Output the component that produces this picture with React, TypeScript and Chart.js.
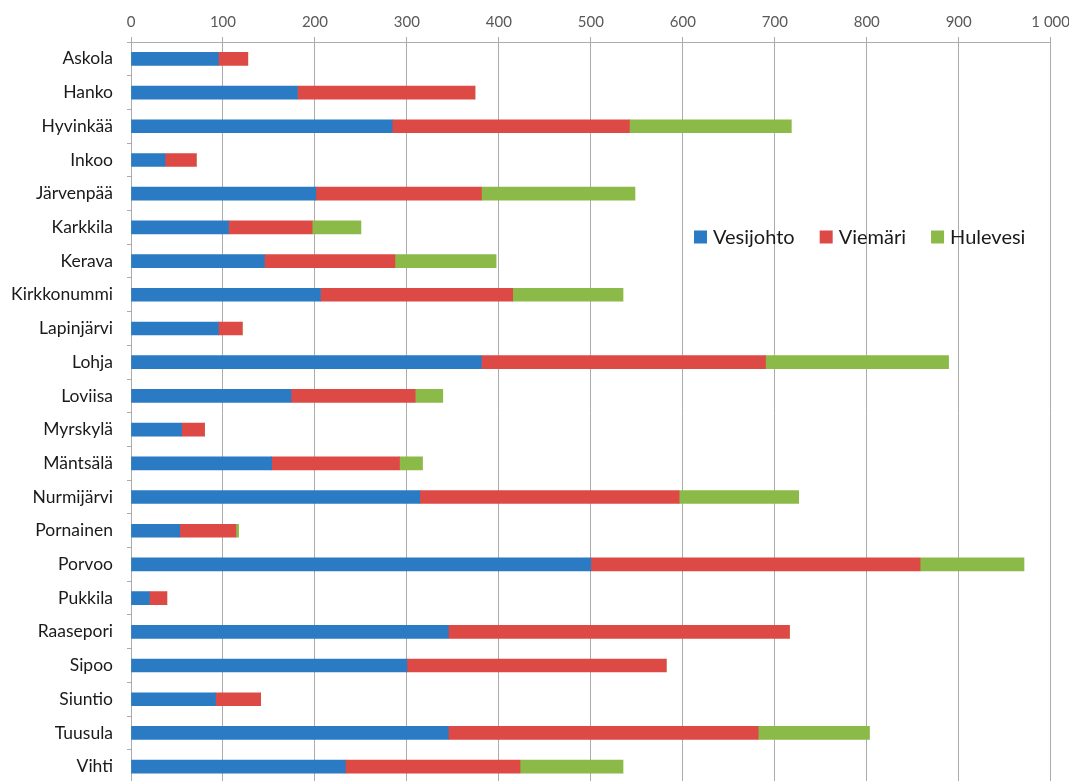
import React, { useEffect, useRef } from "react";
import { Chart, registerables } from "chart.js";

Chart.register(...registerables);

const categories = [
  "Askola", "Hanko", "Hyvinkää", "Inkoo", "Järvenpää", "Karkkila", "Kerava",
  "Kirkkonummi", "Lapinjärvi", "Lohja", "Loviisa", "Myrskylä", "Mäntsälä",
  "Nurmijärvi", "Pornainen", "Porvoo", "Pukkila", "Raasepori", "Sipoo",
  "Siuntio", "Tuusula", "Vihti",
];

const vesijohto = [95, 181, 284, 37, 201, 106, 145, 206, 95, 381, 174, 55, 153, 314, 53, 500, 20, 345, 300, 92, 345, 233];
const viemari = [32, 193, 258, 34, 180, 91, 142, 209, 26, 309, 135, 25, 139, 282, 61, 358, 19, 371, 282, 49, 337, 190];
const hulevesi = [0, 0, 176, 0, 167, 53, 110, 120, 0, 199, 30, 0, 25, 130, 3, 113, 0, 0, 0, 0, 121, 112];

const seriesLabels = ["Vesijohto", "Viemäri", "Hulevesi"];
const seriesColors = ["#2a7bc4", "#dd4a46", "#8cba48"];

const xTicks = [0, 100, 200, 300, 400, 500, 600, 700, 800, 900, 1000];

const FONT = 'Lato, "Open Sans", sans-serif';

const legendPlugin = {
  id: "insideLegend",
  afterDraw(chart: any) {
    const ctx = chart.ctx;
    ctx.save();
    ctx.font = `20px ${FONT}`;
    ctx.textBaseline = "middle";
    ctx.textAlign = "left";
    let x = 694;
    const y = 237;
    chart.data.datasets.forEach((ds: any) => {
      ctx.fillStyle = ds.backgroundColor;
      ctx.fillRect(x, y - 6.5, 13, 13);
      x += 19;
      ctx.fillStyle = "#1a1a1a";
      ctx.fillText(ds.label, x, y + 1);
      x += ctx.measureText(ds.label).width + 25;
    });
    ctx.restore();
  },
};

export default function App() {
  const ref = useRef<HTMLCanvasElement | null>(null);
  useEffect(() => {
    if (!ref.current) return;
    const data = [vesijohto, viemari, hulevesi];
    const chart = new Chart(ref.current, {
      type: "bar",
      data: {
        labels: categories,
        datasets: seriesLabels.map((label, i) => ({
          label,
          data: data[i],
          backgroundColor: seriesColors[i],
          borderWidth: 0,
          barThickness: 13,
        })),
      },
      options: {
        indexAxis: "y",
        responsive: false,
        animation: false,
        layout: { padding: { left: 0, right: 0, top: 0, bottom: 0 } },
        plugins: {
          legend: { display: false },
          tooltip: { enabled: false },
        },
        scales: {
          x: {
            position: "top",
            stacked: true,
            min: 0,
            max: 1000,
            afterBuildTicks: (s: any) => {
              s.ticks = xTicks.map((v) => ({ value: v }));
            },
            afterFit: (s: any) => {
              s.height = 42;
            },
            ticks: {
              color: "#595959",
              font: { family: FONT, size: 15 },
              padding: 6,
              maxRotation: 0,
              callback: (v: any) => String(v).replace(/\B(?=(\d{3})+(?!\d))/g, " "),
            },
            grid: {
              color: "#ababab",
              lineWidth: 1,
              tickLength: 5,
              drawTicks: true,
            },
            border: { color: "#ababab", width: 1 },
          },
          y: {
            stacked: true,
            afterFit: (s: any) => {
              s.width = 131;
            },
            ticks: {
              color: "#1a1a1a",
              font: { family: FONT, size: 17.5 },
              padding: 14,
              autoSkip: false,
            },
            grid: {
              drawOnChartArea: false,
              drawTicks: true,
              tickLength: 4,
              color: "#ababab",
              offset: true,
            },
            border: { color: "#ababab", width: 1 },
          },
        },
      },
      plugins: [legendPlugin],
    } as any);
    return () => chart.destroy();
  }, []);
  return (
    <div style={{ position: "fixed", left: 0, top: 0, width: 1076, height: 808, background: "#fff" }}>
      <canvas ref={ref} width={1076} height={808} style={{ display: "block" }} />
    </div>
  );
}
